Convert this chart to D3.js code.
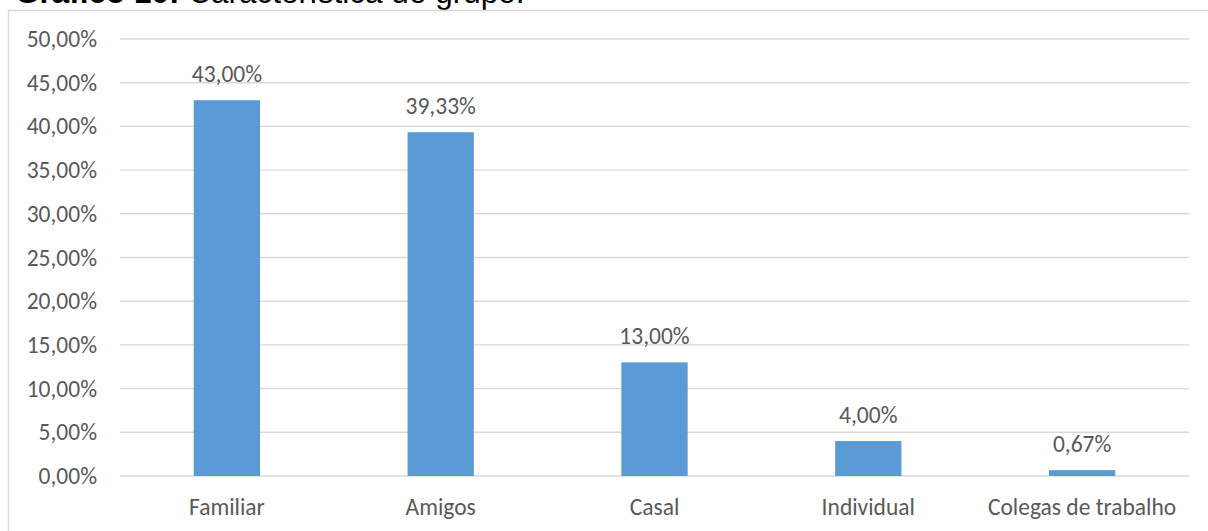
<!DOCTYPE html>
<html>
<head>
<meta charset="utf-8">
<script src="https://cdn.jsdelivr.net/npm/d3@7"></script>
<style>
  body { margin: 0; background: #fff; }
  svg { display: block; }
  .tick text, .val, .cat { font-family: Calibri, Carlito, Lato, sans-serif; fill: #595959; }
</style>
</head>
<body>
<div id="chart"></div>
<script>
// Gráfico 10: Característica do grupo
const categories = ['Familiar', 'Amigos', 'Casal', 'Individual', 'Colegas de trabalho'];
const values = [43.00, 39.33, 13.00, 4.00, 0.67];
const yTicks = [0, 5, 10, 15, 20, 25, 30, 35, 40, 45, 50];

const W = 1208, H = 531;
const margin = { top: 39, right: 19, bottom: 55, left: 120 };
const width = W - margin.left - margin.right;
const height = H - margin.top - margin.bottom;
const fontSize = '23.5px';

const fmt = (v) => v.toFixed(2).replace('.', ',') + '%';

const svg = d3.select('#chart').append('svg')
  .attr('width', W)
  .attr('height', H);

// title, cut by the top of the picture
const title = svg.append('text')
  .attr('x', 15)
  .attr('y', 3)
  .style('font-family', 'Liberation Sans, Arial, sans-serif')
  .style('font-size', '31.5px')
  .style('fill', '#000');
title.append('tspan').style('font-weight', 'bold').text('Gráfico 10:');
title.append('tspan').text(' Característica do grupo.');

// chart frame (only top and left edges are in view)
svg.append('path')
  .attr('d', `M8.5,${H} V10.5 H${W}`)
  .attr('fill', 'none')
  .attr('stroke', '#d9d9d9')
  .attr('stroke-width', 1.3);

const plot = svg.append('g')
  .attr('transform', `translate(${margin.left},${margin.top})`);

const x = d3.scaleBand().domain(categories).range([0, width]);
const y = d3.scaleLinear().domain([0, 50]).range([height, 0]);

// gridlines
plot.append('g')
  .selectAll('line')
  .data(yTicks)
  .join('line')
  .attr('x1', 0)
  .attr('x2', width)
  .attr('y1', (d) => y(d))
  .attr('y2', (d) => y(d))
  .attr('stroke', '#d9d9d9')
  .attr('stroke-width', 1.4);

// y axis labels
const yAxis = plot.append('g')
  .call(d3.axisLeft(y).tickValues(yTicks).tickFormat(fmt).tickSize(0).tickPadding(23));
yAxis.select('.domain').remove();
yAxis.selectAll('text').style('font-size', fontSize);

// bars
const barW = x.bandwidth() * 0.31;
plot.append('g')
  .selectAll('rect')
  .data(values)
  .join('rect')
  .attr('x', (d, i) => x(categories[i]) + (x.bandwidth() - barW) / 2)
  .attr('y', (d) => y(d))
  .attr('width', barW)
  .attr('height', (d) => y(0) - y(d))
  .attr('fill', '#5b9bd5');

// value labels
plot.append('g')
  .selectAll('text')
  .data(values)
  .join('text')
  .attr('class', 'val')
  .attr('x', (d, i) => x(categories[i]) + x.bandwidth() / 2)
  .attr('y', (d) => y(d) - 18)
  .attr('text-anchor', 'middle')
  .style('font-size', fontSize)
  .text(fmt);

// category labels
plot.append('g')
  .selectAll('text')
  .data(categories)
  .join('text')
  .attr('class', 'cat')
  .attr('x', (d) => x(d) + x.bandwidth() / 2)
  .attr('y', height + 39)
  .attr('text-anchor', 'middle')
  .style('font-size', fontSize)
  .text((d) => d);
</script>
</body>
</html>
